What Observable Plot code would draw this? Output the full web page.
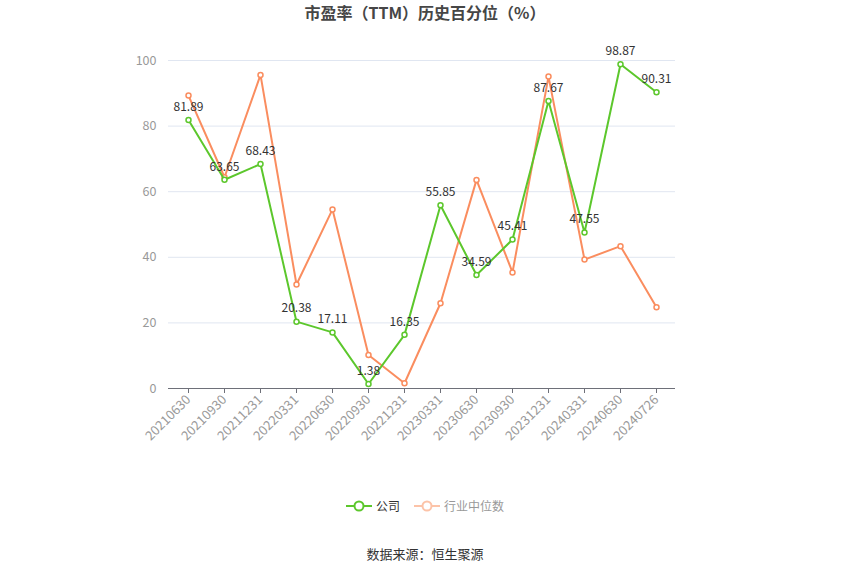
<!DOCTYPE html>
<html><head><meta charset="utf-8">
<script src="https://cdn.jsdelivr.net/npm/d3@7"></script>
<script src="https://cdn.jsdelivr.net/npm/@observablehq/plot@0.6"></script>
<style>
body{margin:0;background:#fff;font-family:"Noto Sans CJK SC","Noto Sans",sans-serif;}
#wrap{width:850px;height:575px;position:relative;}
#title{position:absolute;top:0px;left:0;width:850px;text-align:center;font-size:16px;font-weight:bold;color:#464646;}
#chart{position:absolute;top:30px;left:0;}
#legend{position:absolute;top:497px;left:0;width:850px;display:flex;justify-content:center;gap:14px;font-size:12px;}
#legend .it{display:flex;align-items:center;gap:4px;}
#source{position:absolute;top:544px;left:0;width:850px;text-align:center;font-size:13px;color:#333;}
</style></head>
<body><div id="wrap">
<div id="title">市盈率（TTM）历史百分位（%）</div>
<div id="chart"></div>
<div id="legend">
 <div class="it"><svg width="26" height="14"><line x1="0" y1="7" x2="26" y2="7" stroke="#5cc72c" stroke-width="2"/><circle cx="13" cy="7" r="4.5" fill="#fff" stroke="#5cc72c" stroke-width="2"/></svg><span style="color:#333">公司</span></div>
 <div class="it"><svg width="26" height="14"><line x1="0" y1="7" x2="26" y2="7" stroke="#fcc3a8" stroke-width="2"/><circle cx="13" cy="7" r="4.5" fill="#fff" stroke="#fcc3a8" stroke-width="2"/></svg><span style="color:#999">行业中位数</span></div>
</div>
<div id="source">数据来源：恒生聚源</div>
</div>
<script>
const dates = ["20210630","20210930","20211231","20220331","20220630","20220930","20221231","20230331","20230630","20230930","20231231","20240331","20240630","20240726"];
const company = [81.89,63.65,68.43,20.38,17.11,1.38,16.35,55.85,34.59,45.41,87.67,47.55,98.87,90.31];
const industry = [89.3,64.4,95.6,31.7,54.6,10.2,1.6,26.0,63.6,35.4,95.1,39.3,43.4,24.8];
const yTicks = [0,20,40,60,80,100];

const comp = dates.map((d,i)=>({d, v: company[i]}));
const ind = dates.map((d,i)=>({d, v: industry[i]}));
const green = "#5cc72c", orange = "#fa8d5f";

const plot = Plot.plot({
  width: 850, height: 450,
  marginLeft: 168, marginRight: 175, marginTop: 30, marginBottom: 92,
  style: {fontFamily: '"Noto Sans CJK SC","Noto Sans",sans-serif', fontSize: "12px", background: "#fff"},
  x: {type: "point", domain: dates, padding: 0.5, label: null},
  y: {domain: [0,100], label: null},
  marks: [
    Plot.gridY(yTicks, {stroke: "#e0e6f1", strokeOpacity: 1}),
    Plot.axisY(yTicks, {tickSize: 0, tickPadding: 12, fill: "#999", fontSize: 12.5, label: null}),
    Plot.axisX({tickSize: 5, stroke: "#6e7079", tickRotate: -45, tickPadding: 4, fill: "#999", fontSize: 13, label: null}),
    Plot.ruleY([0], {stroke: "#6e7079"}),
    Plot.line(ind, {x: "d", y: "v", stroke: orange, strokeWidth: 2}),
    Plot.dot(ind, {x: "d", y: "v", r: 2.5, fill: "#fff", stroke: orange, strokeWidth: 1.5}),
    Plot.line(comp, {x: "d", y: "v", stroke: green, strokeWidth: 2}),
    Plot.dot(comp, {x: "d", y: "v", r: 2.5, fill: "#fff", stroke: green, strokeWidth: 1.5}),
    Plot.text(comp, {x: "d", y: "v", text: d => d.v.toFixed(2), dy: -13, fill: "#333", fontSize: 12})
  ]
});
document.getElementById("chart").appendChild(plot);
</script>
</body></html>
